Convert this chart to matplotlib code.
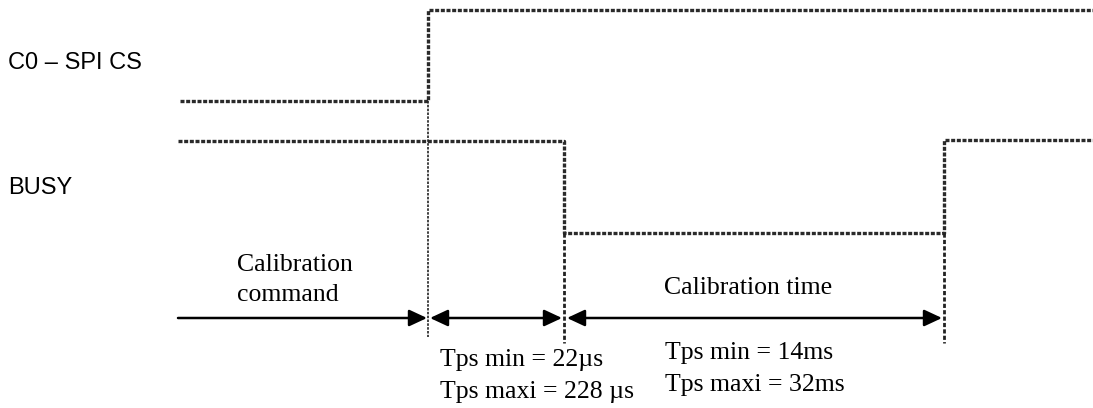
import matplotlib.pyplot as plt

# chronogramme calibration : positions en pixels de l'image
t_cs = [180, 428, 428, 1093]          # C0 - SPI CS
y_cs = [101, 101, 10, 10]
t_busy = [178, 564, 564, 944, 944, 1093]   # BUSY
y_busy = [141, 141, 233, 233, 140, 140]

# reperes verticaux (x, y debut, y fin)
reperes_x = [428, 564, 944]
reperes_y0 = [101, 233, 233]
reperes_y1 = [337, 343, 343]

y_fleche = 318
noms = ['C0 – SPI CS', 'BUSY']
noms_y = [63, 188]

fig = plt.figure(figsize=(10.93, 4.08), dpi=100)
ax = fig.add_axes([0, 0, 1, 1])
ax.set_xlim(0, 1093)
ax.set_ylim(408, 0)
ax.axis('off')

sig = dict(color='#2a2a2a', lw=2.4, ls=(0, (1.2, 0.5)))
ax.plot(t_cs, y_cs, **sig)
ax.plot(t_busy, y_busy, **sig)

lw_rep = [1.2, 2.0, 2.0]
for x, a, b, w in zip(reperes_x, reperes_y0, reperes_y1, lw_rep):
    ax.plot([x, x], [a, b], color='#222222', lw=w, ls=(0, (1.5, 0.8)))

for n, y in zip(noms, noms_y):
    ax.text(8, y, n, fontsize=17, family='Liberation Sans', va='center', ha='left')

fl = dict(color='black', lw=1.8, shrinkA=0, shrinkB=0, mutation_scale=18)
st1 = '-|>,head_length=0.6,head_width=0.28'
st2 = '<|-|>,head_length=0.6,head_width=0.28'
ax.annotate('', xy=(427, y_fleche), xytext=(178, y_fleche),
            arrowprops=dict(arrowstyle=st1, **fl))
ax.annotate('', xy=(562, y_fleche), xytext=(430, y_fleche),
            arrowprops=dict(arrowstyle=st2, **fl))
ax.annotate('', xy=(942, y_fleche), xytext=(567, y_fleche),
            arrowprops=dict(arrowstyle=st2, **fl))

serif = dict(family='Liberation Serif', fontsize=18.5)
ax.text(237, 265, 'Calibration', ha='left', va='center', **serif)
ax.text(237, 295, 'command', ha='left', va='center', **serif)
ax.text(748, 288, 'Calibration time', ha='center', va='center', **serif)
ax.text(440, 360, 'Tps min = 22µs', ha='left', va='center', **serif)
ax.text(440, 392, 'Tps maxi = 228 µs', ha='left', va='center', **serif)
ax.text(665, 353, 'Tps min = 14ms', ha='left', va='center', **serif)
ax.text(665, 385, 'Tps maxi = 32ms', ha='left', va='center', **serif)

fig.savefig('out.png', dpi=100)
